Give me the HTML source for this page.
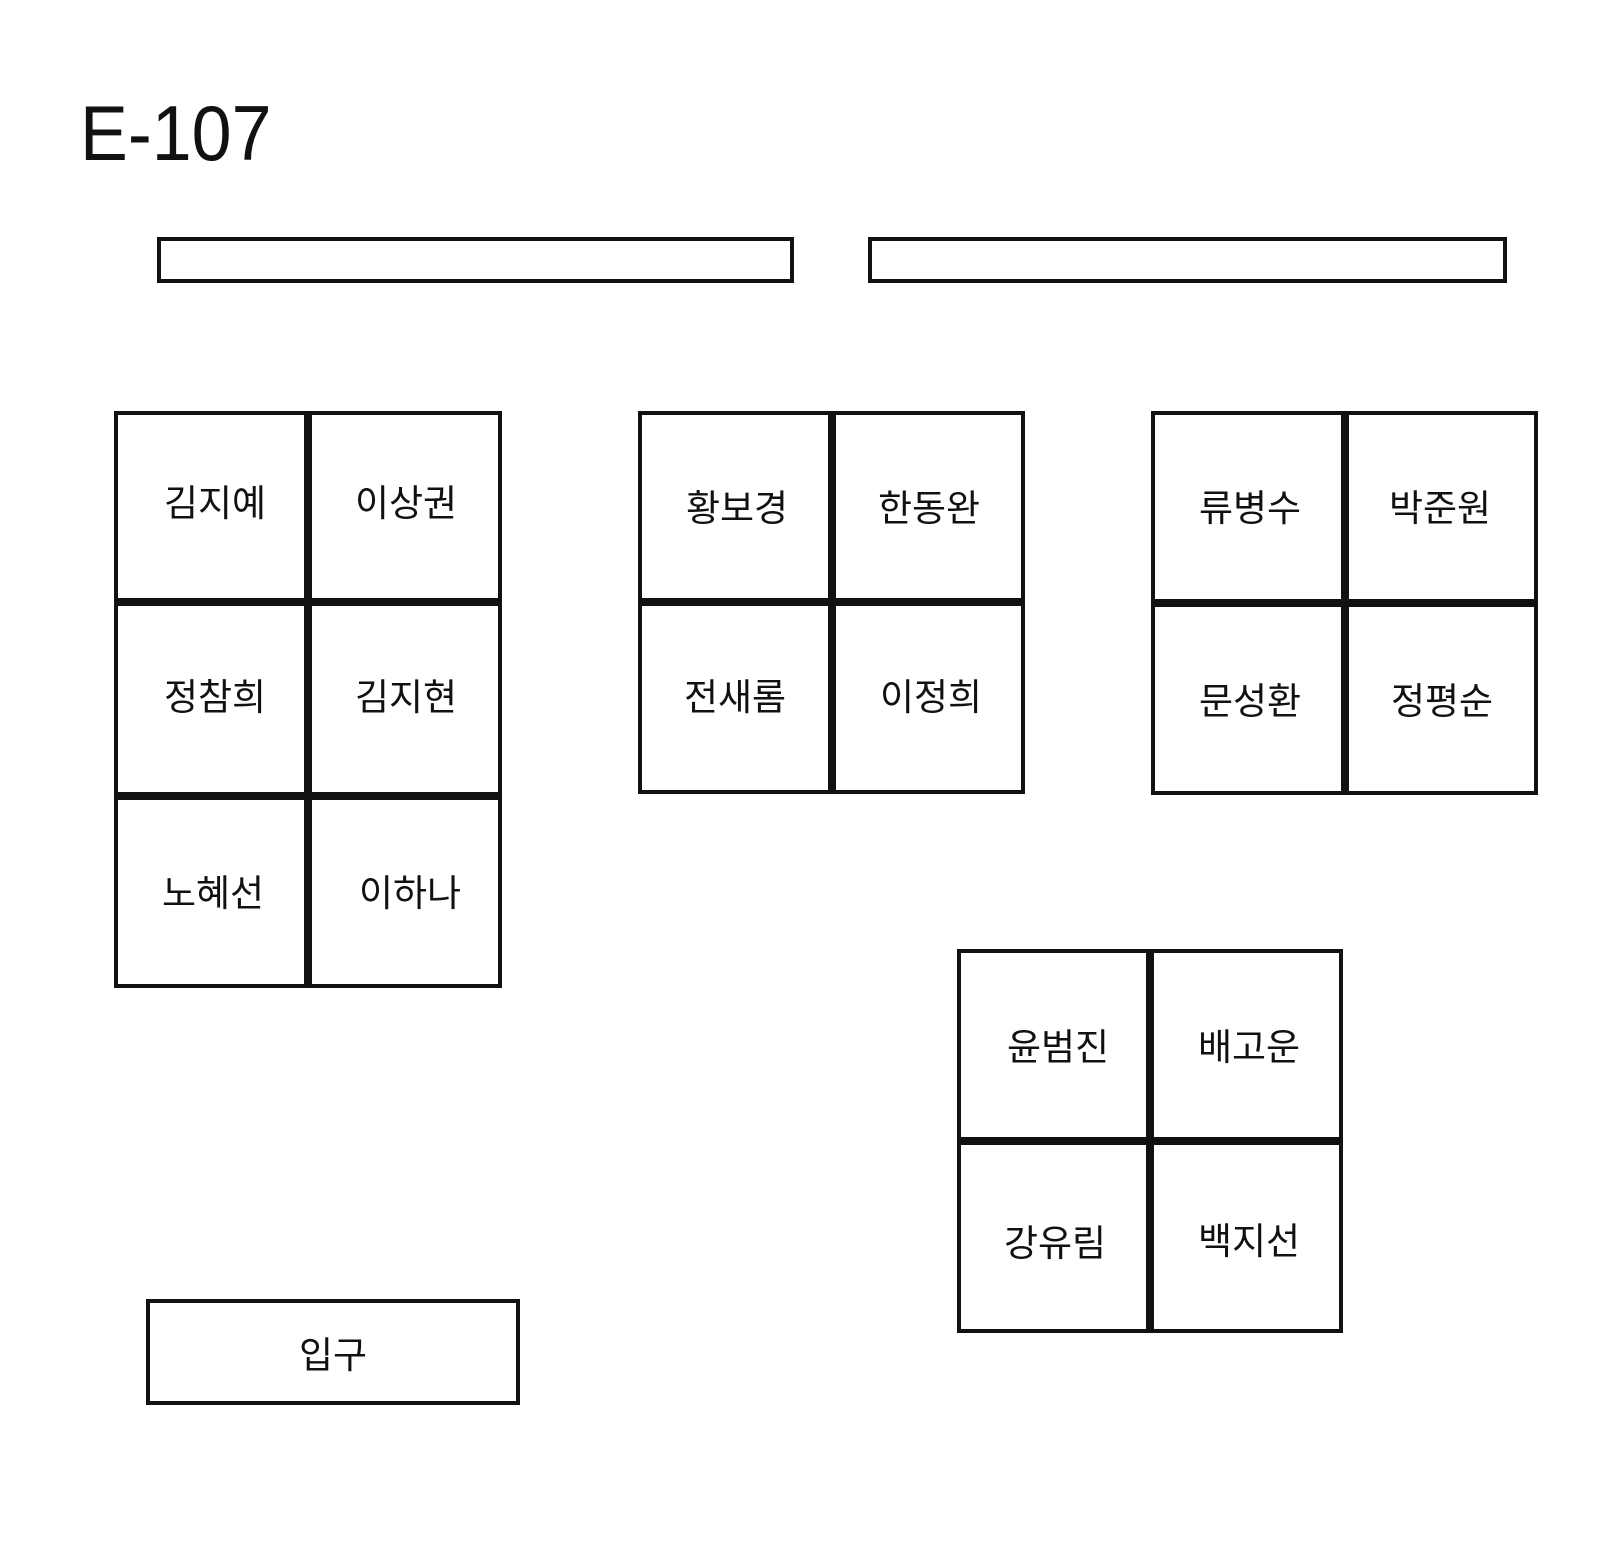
<!DOCTYPE html>
<html><head><meta charset="utf-8"><style>
body{margin:0;width:1600px;height:1541px;background:#fff;position:relative;overflow:hidden;font-family:"Liberation Sans","Noto Sans CJK KR",sans-serif;color:#111}
.b{position:absolute;border:4px solid #111;box-sizing:border-box}
.v{position:absolute;background:#111;width:8px}
.h{position:absolute;background:#111;height:8px}
.t{position:absolute;font-size:37px;transform:translate(-50%,-50%);white-space:nowrap}
</style></head><body>
<div style="position:absolute;left:80px;top:94px;font-size:78px;transform:scaleX(0.92);transform-origin:left top;line-height:1">E-107</div>
<div class="b" style="left:157px;top:237px;width:637px;height:46px"></div>
<div class="b" style="left:868px;top:237px;width:639px;height:46px"></div>

<div class="b" style="left:114px;top:411px;width:388px;height:577px"></div>
<div class="v" style="left:304px;top:411px;height:577px"></div>
<div class="h" style="left:114px;top:598px;width:388px"></div>
<div class="h" style="left:114px;top:792px;width:388px"></div>
<div class="t" style="left:215px;top:500px">김지예</div>
<div class="t" style="left:406px;top:500px">이상권</div>
<div class="t" style="left:215px;top:694px">정참희</div>
<div class="t" style="left:406px;top:694px">김지현</div>
<div class="t" style="left:213px;top:890px">노혜선</div>
<div class="t" style="left:410px;top:890px">이하나</div>

<div class="b" style="left:638px;top:411px;width:387px;height:383px"></div>
<div class="v" style="left:828px;top:411px;height:383px"></div>
<div class="h" style="left:638px;top:598px;width:387px"></div>
<div class="t" style="left:737px;top:505px">황보경</div>
<div class="t" style="left:929px;top:505px">한동완</div>
<div class="t" style="left:735px;top:694px">전새롬</div>
<div class="t" style="left:931px;top:694px">이정희</div>

<div class="b" style="left:1151px;top:411px;width:387px;height:384px"></div>
<div class="v" style="left:1341px;top:411px;height:384px"></div>
<div class="h" style="left:1151px;top:599px;width:387px"></div>
<div class="t" style="left:1250px;top:505px">류병수</div>
<div class="t" style="left:1440px;top:505px">박준원</div>
<div class="t" style="left:1250px;top:698px">문성환</div>
<div class="t" style="left:1442px;top:698px">정평순</div>

<div class="b" style="left:957px;top:949px;width:386px;height:384px"></div>
<div class="v" style="left:1146px;top:949px;height:384px"></div>
<div class="h" style="left:957px;top:1137px;width:386px"></div>
<div class="t" style="left:1058px;top:1044px">윤범진</div>
<div class="t" style="left:1249px;top:1044px">배고운</div>
<div class="t" style="left:1055px;top:1240px">강유림</div>
<div class="t" style="left:1249px;top:1238px">백지선</div>

<div class="b" style="left:146px;top:1299px;width:374px;height:106px"></div>
<div class="t" style="left:333px;top:1352px">입구</div>
</body></html>
